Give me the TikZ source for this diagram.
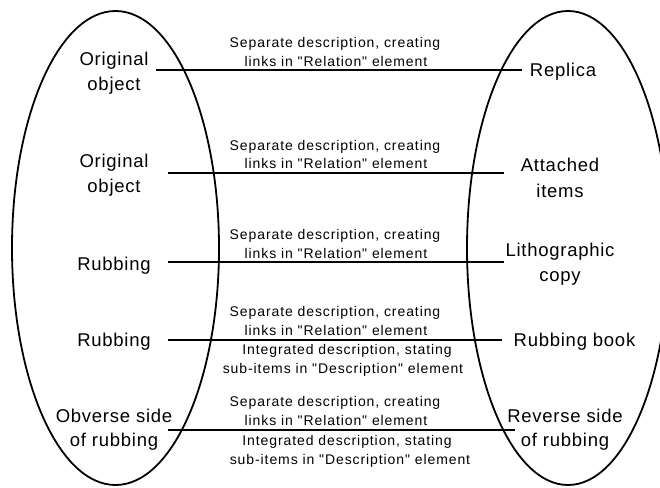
\documentclass[tikz,border=0pt]{standalone}
\usepackage{fontspec}
\setmainfont{Liberation Sans}
\newfontfamily\itemfont[LetterSpace=4]{Liberation Sans}
\newfontfamily\notefont[LetterSpace=6.5]{Liberation Sans}
\begin{document}
\begin{tikzpicture}[x=1pt,y=-1pt,
  itemtext/.style={anchor=base,inner sep=0pt,font=\itemfont\fontsize{18.5}{22}\selectfont},
  notetext/.style={anchor=base,inner sep=0pt,font=\notefont\fontsize{14}{17}\selectfont},
  link/.style={line width=2pt},
  group/.style={line width=1.8pt}]
\useasboundingbox (0,0) rectangle (660,487);
\clip (0,0) rectangle (660,487);

% the two groups of items
\draw[group] (115.5,248) ellipse [x radius=103.5, y radius=237];
\draw[group] (568,248) ellipse [x radius=101, y radius=237];

% row 1
\node[itemtext] (l1a) at (114,65.7) {Original};
\node[itemtext] (l1b) at (114,90) {object};
\node[itemtext] (r1a) at (563,76.7) {Replica};
\coordinate (s1) at (156,70.3);
\coordinate (e1) at (522,70.3);
\draw[link] (s1) -- (e1);
\node[notetext] (n1a) at (335,47.7) {Separate description, creating};
\node[notetext] (n1b) at (336,66.7) {links in "Relation" element};

% row 2
\node[itemtext] (l2a) at (114,167.7) {Original};
\node[itemtext] (l2b) at (114,192.3) {object};
\node[itemtext] (r2a) at (560,171.7) {Attached};
\node[itemtext] (r2b) at (560,197.3) {items};
\coordinate (s2) at (168,172.7);
\coordinate (e2) at (504,172.7);
\draw[link] (s2) -- (e2);
\node[notetext] (n2a) at (335,150) {Separate description, creating};
\node[notetext] (n2b) at (336,168.8) {links in "Relation" element};

% row 3
\node[itemtext] (l3a) at (114,270.7) {Rubbing};
\node[itemtext] (r3a) at (560,256.7) {Lithographic};
\node[itemtext] (r3b) at (560,281.7) {copy};
\coordinate (s3) at (168,262);
\coordinate (e3) at (504,262);
\draw[link] (s3) -- (e3);
\node[notetext] (n3a) at (335,239.5) {Separate description, creating};
\node[notetext] (n3b) at (336,258.3) {links in "Relation" element};

% row 4
\node[itemtext] (l4a) at (114,346) {Rubbing};
\node[itemtext] (r4a) at (574.5,346) {Rubbing book};
\coordinate (s4) at (168,340);
\coordinate (e4) at (502,340);
\draw[link] (s4) -- (e4);
\node[notetext] (n4a) at (335,316.7) {Separate description, creating};
\node[notetext] (n4b) at (336,335.5) {links in "Relation" element};
\node[notetext] (n4c) at (347,354.3) {Integrated description, stating};
\node[notetext] (n4d) at (343,373.3) {sub-items in "Description" element};

% row 5
\node[itemtext] (l5a) at (114,422.7) {Obverse side};
\node[itemtext] (l5b) at (114,446.7) {of rubbing};
\node[itemtext] (r5a) at (565,422.7) {Reverse side};
\node[itemtext] (r5b) at (565,446.7) {of rubbing};
\coordinate (s5) at (168,430);
\coordinate (e5) at (515,430);
\draw[link] (s5) -- (e5);
\node[notetext] (n5a) at (335,406.7) {Separate description, creating};
\node[notetext] (n5b) at (336,425.5) {links in "Relation" element};
\node[notetext] (n5c) at (347,445) {Integrated description, stating};
\node[notetext] (n5d) at (350,464) {sub-items in "Description" element};
\end{tikzpicture}
\end{document}
